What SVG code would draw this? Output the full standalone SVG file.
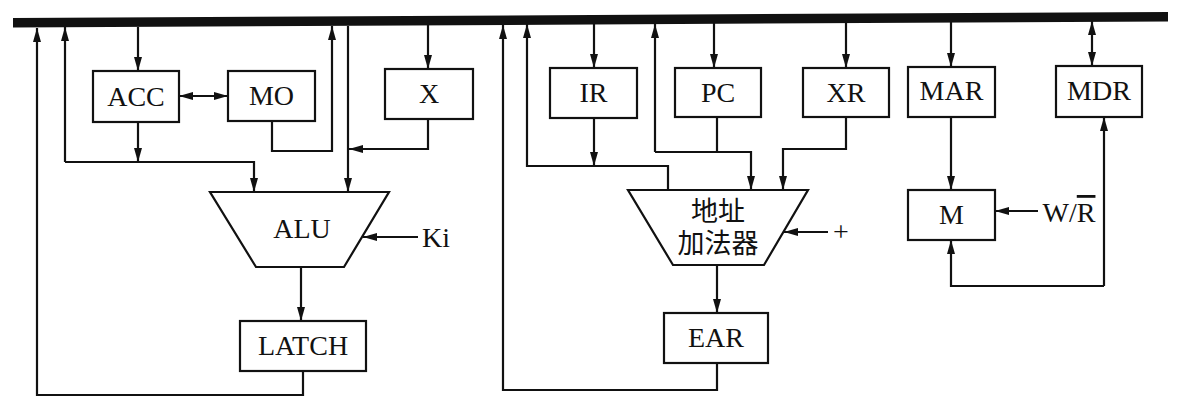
<svg xmlns="http://www.w3.org/2000/svg" width="1196" height="410" viewBox="0 0 1196 410">
<style>
.box{fill:#fff;stroke:#111;stroke-width:2.2}
.lbl{font-family:"Liberation Serif","Times New Roman",serif;font-size:28px;fill:#111;text-anchor:middle}
.cjk{font-family:"Liberation Serif","Noto Sans CJK SC",serif;font-size:27px;fill:#111;text-anchor:middle}
.ln{fill:none;stroke:#111;stroke-width:2.2}
</style>
<defs>
<marker id="ah" viewBox="0 0 14 8" refX="14" refY="4" markerWidth="14" markerHeight="8" markerUnits="userSpaceOnUse" orient="auto-start-reverse">
<path d="M0,0 L14,4 L0,8 z" fill="#111"/>
</marker>
</defs>
<rect width="1196" height="410" fill="#fff"/>
<g id="bus"><polygon points="13,18 1168,12 1168,21.5 13,27.5" fill="#111"/></g>
<g id="connectors" class="ln">
<path class="ln" d="M303,371 V395 H37 V28" marker-end="url(#ah)"/>
<path class="ln" d="M65,162 V27" marker-end="url(#ah)"/>
<path class="ln" d="M65,162 H254 V192" marker-end="url(#ah)"/>
<path class="ln" d="M138,122 V162" marker-end="url(#ah)"/>
<path class="ln" d="M138,27 V71" marker-end="url(#ah)"/>
<path class="ln" d="M179,96 H228" marker-start="url(#ah)" marker-end="url(#ah)"/>
<path class="ln" d="M272,121 V151 H332 V26" marker-end="url(#ah)"/>
<path class="ln" d="M348,26 V192" marker-end="url(#ah)"/>
<path class="ln" d="M428,119 V149 H349" marker-end="url(#ah)"/>
<path class="ln" d="M428,25 V69" marker-end="url(#ah)"/>
<path class="ln" d="M418,237 H363" marker-end="url(#ah)"/>
<path class="ln" d="M301,267 V321" marker-end="url(#ah)"/>
<path class="ln" d="M717,363 V390 H503 V25" marker-end="url(#ah)"/>
<path class="ln" d="M668,190 V166 H527 V24" marker-end="url(#ah)"/>
<path class="ln" d="M594,118 V166" marker-end="url(#ah)"/>
<path class="ln" d="M594,23 V68" marker-end="url(#ah)"/>
<path class="ln" d="M717,117 V152"/>
<path class="ln" d="M655,152 V24" marker-end="url(#ah)"/>
<path class="ln" d="M655,152 H751 V190" marker-end="url(#ah)"/>
<path class="ln" d="M714,23 V68" marker-end="url(#ah)"/>
<path class="ln" d="M846,22 V68" marker-end="url(#ah)"/>
<path class="ln" d="M846,117 V149 H783 V190" marker-end="url(#ah)"/>
<path class="ln" d="M828,232 H784" marker-end="url(#ah)"/>
<path class="ln" d="M717,265 V313" marker-end="url(#ah)"/>
<path class="ln" d="M951,21 V67" marker-end="url(#ah)"/>
<path class="ln" d="M951,117 V190" marker-end="url(#ah)"/>
<path class="ln" d="M1038,211 H995" marker-end="url(#ah)"/>
<path class="ln" d="M1104,286 H951 V240" marker-end="url(#ah)"/>
<path class="ln" d="M1104,286 V117" marker-end="url(#ah)"/>
<path class="ln" d="M1092,21 V66" marker-start="url(#ah)" marker-end="url(#ah)"/>
</g>
<g id="ACC"><rect class="box" x="93" y="71" width="86" height="51"/><text class="lbl" x="136" y="106">ACC</text></g>
<g id="MO"><rect class="box" x="228" y="71" width="87" height="50"/><text class="lbl" x="271.5" y="105">MO</text></g>
<g id="X"><rect class="box" x="385" y="69" width="88" height="50"/><text class="lbl" x="429" y="103">X</text></g>
<g id="ALU"><polygon class="box" points="210,192 389,192 344,267 256,267"/><text class="lbl" x="302" y="238">ALU</text></g>
<g id="Ki"><text class="lbl" x="436" y="247">Ki</text></g>
<g id="LATCH"><rect class="box" x="240" y="321" width="126" height="50"/><text class="lbl" x="303" y="355">LATCH</text></g>
<g id="IR"><rect class="box" x="550" y="68" width="87" height="50"/><text class="lbl" x="593.5" y="102">IR</text></g>
<g id="PC"><rect class="box" x="675" y="68" width="86" height="49"/><text class="lbl" x="718" y="102">PC</text></g>
<g id="XR"><rect class="box" x="803" y="68" width="86" height="49"/><text class="lbl" x="846" y="102">XR</text></g>
<g id="adder"><polygon class="box" points="628,190 808,190 764,265 673,265"/><text class="cjk" x="718" y="221">地址</text><text class="cjk" x="718" y="253">加法器</text></g>
<g id="plus"><text class="lbl" x="841" y="241">+</text></g>
<g id="EAR"><rect class="box" x="664" y="313" width="104" height="50"/><text class="lbl" x="716" y="347">EAR</text></g>
<g id="MAR"><rect class="box" x="908" y="67" width="87" height="50"/><text class="lbl" x="951.5" y="100">MAR</text></g>
<g id="M"><rect class="box" x="908" y="190" width="87" height="50"/><text class="lbl" x="951.5" y="224">M</text></g>
<g id="WR"><text class="lbl" x="1069" y="222">W/<tspan style="text-decoration:overline">R</tspan></text></g>
<g id="MDR"><rect class="box" x="1056" y="66" width="86" height="51"/><text class="lbl" x="1099" y="100">MDR</text></g>
</svg>
